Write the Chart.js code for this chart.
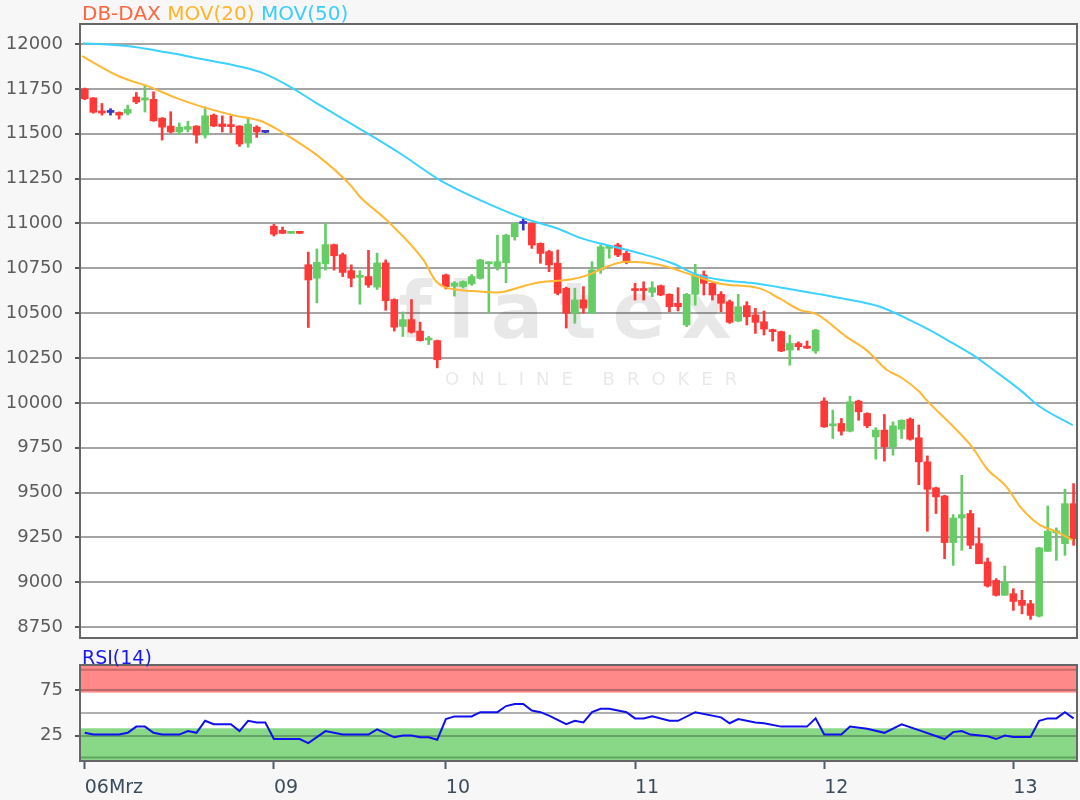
<!DOCTYPE html>
<html lang="de">
<head>
  <meta charset="UTF-8">
  <title>DB-DAX</title>
  <script src="https://cdn.jsdelivr.net/npm/chart.js"></script>
  <style>
    body {
      margin: 0;
      background: #f7f7f7;
      font-family: "DejaVu Sans", sans-serif;
    }
    #wrap { position: relative; width: 1080px; height: 800px; overflow: hidden; }
    #priceBox { position: absolute; left: 0; top: 0; width: 1080px; height: 662px; }
    #rsiBox { position: absolute; left: 0; top: 640px; width: 1080px; height: 160px; }
    .label { position: absolute; left: 82px; white-space: nowrap; line-height: 24px; }
    #title { top: 1px; font-size: 20px; }
    #rsiTitle { top: 645px; font-size: 19px; color: #1a1aee; }
  </style>
</head>
<body>
  <div id="wrap">
    <div id="rsiBox"><canvas id="rsiChart"></canvas></div>
    <div id="priceBox"><canvas id="priceChart"></canvas></div>
    <div class="label" id="title"><span style="color:#ff6640">DB-DAX</span> <span style="color:#ffb52a">MOV(20)</span> <span style="color:#3cccff">MOV(50)</span></div>
    <div class="label" id="rsiTitle">RSI(14)</div>
  </div>

  <script>
    // Tageswechsel (Index der ersten Kerze)
    const dayLabels = ['06Mrz', '09', '10', '11', '12', '13'];
    const dayStart = [0, 22, 42, 64, 86, 108];

    // Kerzen
    const open = [
      11750, 11700, 11622, 11619, 11619, 11615, 11705, 11688, 11692, 11587,
      11543, 11510, 11525, 11543, 11493, 11604, 11555, 11550, 11543, 11448,
      11537, 11508, 10985, 10962, 10945, 10948, 10770, 10695, 10775, 10882,
      10826, 10737, 10700, 10704, 10645, 10780, 10576, 10426, 10464, 10400,
      10350, 10347, 10713, 10650, 10648, 10663, 10694, 10775, 10760, 10781,
      10926, 11000, 11000, 10889, 10843, 10778, 10639, 10500, 10574, 10500,
      10741, 10861, 10880, 10834, 10632, 10632, 10616, 10653, 10605, 10555,
      10434, 10605, 10713, 10666, 10605, 10564, 10456, 10542, 10490, 10452,
      10406, 10397, 10294, 10331, 10310, 10289, 10010, 9872, 9885, 9842,
      10010, 9941, 9810, 9848, 9755, 9853, 9909, 9805, 9671, 9526,
      9481, 9221, 9358, 9383, 9215, 9113, 9010, 8927, 8936, 8899,
      8880, 8811, 9172, 9275, 9215, 9438
    ];
    const high = [
      11755, 11702, 11669, 11640, 11622, 11660, 11730, 11771, 11734, 11590,
      11623, 11560, 11570, 11545, 11650, 11610, 11600, 11600, 11545, 11590,
      11545, 11510, 10995, 10980, 10950, 10950, 10840, 10858, 11000, 10885,
      10835, 10769, 10737, 10850, 10835, 10797, 10580, 10507, 10576, 10450,
      10370, 10350, 10718, 10676, 10680, 10715, 10800, 10787, 10935, 10940,
      11005, 11028, 11002, 10892, 10850, 10852, 10645, 10639, 10648, 10787,
      10880, 10874, 10889, 10845, 10666, 10675, 10675, 10657, 10608, 10642,
      10610, 10772, 10735, 10670, 10620, 10573, 10605, 10564, 10527, 10512,
      10411, 10400, 10378, 10340, 10345, 10410, 10028, 9960, 9913, 10037,
      10015, 9945, 9861, 9935, 9894, 9905, 9916, 9876, 9704, 9530,
      9485, 9377, 9596, 9401, 9303, 9135, 9020, 9090, 8964, 8955,
      8899, 9195, 9425, 9303, 9518, 9550
    ];
    const low = [
      11690, 11615, 11604, 11604, 11582, 11605, 11668, 11621, 11570, 11465,
      11505, 11495, 11510, 11448, 11476, 11540, 11510, 11505, 11430, 11425,
      11480, 11506, 10930, 10943, 10945, 10944, 10420, 10557, 10740, 10740,
      10704, 10647, 10550, 10644, 10632, 10516, 10400, 10370, 10389, 10344,
      10325, 10195, 10635, 10595, 10640, 10655, 10690, 10500, 10740, 10670,
      10907, 10963, 10861, 10778, 10731, 10602, 10417, 10444, 10500, 10498,
      10722, 10806, 10815, 10775, 10573, 10573, 10592, 10597, 10508, 10512,
      10425, 10545, 10601, 10573, 10508, 10443, 10452, 10434, 10387, 10378,
      10344, 10285, 10210, 10294, 10303, 10276, 9863, 9801, 9820, 9838,
      9903, 9861, 9686, 9675, 9708, 9801, 9792, 9544, 9284, 9383,
      9131, 9094, 9178, 9187, 9103, 8973, 8923, 8927, 8843, 8824,
      8793, 8806, 9172, 9122, 9150, 9206
    ];
    const close = [
      11695, 11620, 11616, 11619, 11604, 11637, 11677, 11700, 11572, 11537,
      11510, 11537, 11540, 11493, 11600, 11543, 11540, 11540, 11443, 11554,
      11510, 11508, 10940, 10945, 10948, 10945, 10685, 10783, 10882, 10820,
      10727, 10695, 10705, 10657, 10780, 10570, 10422, 10464, 10394, 10347,
      10352, 10240, 10648, 10668, 10676, 10704, 10796, 10780, 10787, 10935,
      11000, 11000, 10880, 10833, 10769, 10611, 10500, 10574, 10528, 10741,
      10870, 10870, 10824, 10783, 10626, 10626, 10642, 10601, 10536, 10536,
      10605, 10713, 10666, 10601, 10555, 10449, 10536, 10480, 10449, 10411,
      10397, 10289, 10331, 10313, 10305, 10406, 9866, 9880, 9842, 10006,
      9950, 9872, 9848, 9755, 9872, 9903, 9797, 9671, 9518, 9476,
      9221, 9358, 9377, 9206, 9103, 8979, 8927, 9001, 8893, 8871,
      8815, 9191, 9284, 9284, 9438, 9243
    ];

    const ma20X = [-0.3, 4.1, 7.6, 10.3, 13.4, 17.2, 20.7, 23.1, 27.0, 30.9, 32.0, 35.1, 39.4, 40.9, 43.6, 45.2,
      47.9, 51.4, 52.9, 56.8, 59.0, 60.7, 63.0, 66.9, 70.7, 73.9, 78.5, 80.8, 83.2, 85.1, 88.6, 90.9,
      93.3, 95.0, 97.1, 97.9, 101.0, 103.3, 104.9, 107.2, 108.8, 111.1, 112.6, 114.9];
    const ma20 = [11933, 11818, 11760, 11706, 11654, 11604, 11567, 11504, 11381, 11214, 11149, 11019, 10796, 10675, 10629, 10623,
      10615, 10656, 10672, 10690, 10722, 10759, 10786, 10768, 10712, 10664, 10638, 10582, 10517, 10495, 10368, 10294,
      10183, 10140, 10060, 10015, 9868, 9748, 9634, 9532, 9420, 9318, 9290, 9235];
    const ma50X = [-0.2, 4.9, 9.5, 14.2, 18.1, 20.8, 23.9, 27.0, 31.6, 36.7, 41.3, 47.5, 51.0, 54.9, 57.8, 60.7,
      64.2, 68.4, 70.8, 73.9, 77.4, 81.6, 85.5, 90.2, 92.5, 95.6, 97.9, 101.0, 103.3, 105.7, 108.8, 111.1, 114.9];
    const ma50 = [12004, 11989, 11954, 11911, 11874, 11837, 11762, 11669, 11539, 11390, 11242, 11098, 11030, 10973, 10917, 10880,
      10838, 10777, 10722, 10686, 10669, 10638, 10605, 10563, 10536, 10470, 10415, 10331, 10266, 10183, 10071, 9978, 9876];

    // RSI(14)
    const rsiX = [0, 1, 4, 5, 6, 7, 8, 9, 11, 12, 13, 14, 15, 17, 18, 19, 20, 21, 22, 25,
      26, 28, 30, 33, 34, 36, 37, 38, 39, 40, 41, 42, 43, 45, 46, 48, 49, 50, 51, 52,
      53, 54, 56, 57, 58, 59, 60, 61, 63, 64, 65, 66, 68, 69, 71, 74, 75, 76, 78, 79,
      81, 84, 85, 86, 88, 89, 91, 93, 95, 97, 100, 101, 102, 103, 105, 106, 107, 108, 110, 111,
      112, 113, 114, 115];
    const rsiY = [28.0, 26.1, 26.1, 28.0, 34.8, 34.8, 28.0, 26.1, 26.1, 29.9, 28.0, 41.2, 37.4, 37.4, 29.9, 41.2, 39.3, 39.3, 21.2, 21.2,
      16.7, 29.9, 26.1, 26.1, 31.8, 23.1, 25.0, 25.0, 23.1, 23.1, 20.5, 43.0, 46.0, 46.0, 50.6, 50.6, 57.3, 59.6, 59.6, 52.4,
      50.6, 46.8, 37.4, 41.2, 39.3, 50.6, 54.3, 54.3, 50.6, 43.8, 43.8, 46.0, 41.2, 41.2, 50.6, 44.9, 38.5, 43.0, 39.3, 38.5,
      34.8, 34.8, 43.8, 26.1, 26.1, 34.8, 32.5, 28.0, 37.4, 31.0, 21.2, 28.8, 29.9, 26.1, 24.2, 21.2, 25.0, 23.5, 23.5, 41.2,
      43.8, 43.8, 50.6, 43.8];

    const priceTicks = [8750, 9000, 9250, 9500, 9750, 10000, 10250, 10500, 10750, 11000, 11250, 11500, 11750, 12000];
    const rsiTicks = [25, 50, 75];
    const rsiUpper = [72, 102.2];
    const rsiLower = [-2.8, 33];

    const xMin = -0.55, xMax = 115.4;
    const idx = open.map((_, i) => i);

    Chart.defaults.font.family = 'DejaVu Sans';

    function candleColor(i) {
      if (close[i] > open[i]) return '#66cc66';
      if (close[i] < open[i]) return '#ff3838';
      return '#3535cc';
    }

    const areaPlugin = {
      id: 'area',
      beforeDraw(chart) {
        const { ctx, chartArea: a } = chart;
        ctx.save();
        ctx.fillStyle = '#ffffff';
        ctx.fillRect(a.left, a.top, a.right - a.left, a.bottom - a.top);
        const band = chart.options.plugins.area.bands || [];
        const y = chart.scales.y;
        band.forEach(b => {
          const y1 = y.getPixelForValue(b.range[1]);
          const y0 = y.getPixelForValue(b.range[0]);
          ctx.fillStyle = b.color;
          ctx.fillRect(a.left, y1, a.right - a.left, y0 - y1);
          ctx.strokeStyle = b.line;
          ctx.lineWidth = 2;
          ctx.beginPath();
          const ly = y.getPixelForValue(b.edge);
          ctx.moveTo(a.left, ly);
          ctx.lineTo(a.right, ly);
          ctx.stroke();
        });
        ctx.restore();
      },
      afterDraw(chart) {
        const { ctx, chartArea: a } = chart;
        ctx.save();
        ctx.strokeStyle = '#666666';
        ctx.lineWidth = 2;
        ctx.strokeRect(a.left, a.top, a.right - a.left, a.bottom - a.top);
        ctx.restore();
      }
    };

    const watermark = {
      id: 'watermark',
      beforeDatasetsDraw(chart) {
        const ctx = chart.ctx;
        ctx.save();
        ctx.fillStyle = 'rgba(0,0,0,0.09)';
        ctx.font = 'bold 78px "DejaVu Sans"';
        ctx.letterSpacing = '16px';
        ctx.fillText('flatex', 398, 338);
        ctx.font = '18px "DejaVu Sans"';
        ctx.letterSpacing = '12px';
        ctx.fillText('ONLINE BROKER', 445, 385);
        ctx.restore();
      }
    };

    new Chart(document.getElementById('priceChart'), {
      type: 'bar',
      data: {
        datasets: [
          {
            type: 'line',
            label: 'MOV(50)',
            data: ma50X.map((x, k) => ({ x: x, y: ma50[k] })),
            borderColor: '#3cd2ff',
            borderWidth: 2,
            pointRadius: 0,
            cubicInterpolationMode: 'monotone',
            order: 0
          },
          {
            type: 'line',
            label: 'MOV(20)',
            data: ma20X.map((x, k) => ({ x: x, y: ma20[k] })),
            borderColor: '#ffb833',
            borderWidth: 2,
            pointRadius: 0,
            cubicInterpolationMode: 'monotone',
            order: 0
          },
          {
            label: 'body',
            data: idx.map(i => ({ x: i, y: [open[i], close[i]] })),
            backgroundColor: ctx => candleColor(ctx.dataIndex),
            barThickness: 7,
            minBarLength: 2,
            grouped: false,
            order: 1
          },
          {
            label: 'wick',
            data: idx.map(i => ({ x: i, y: [low[i], high[i]] })),
            backgroundColor: ctx => candleColor(ctx.dataIndex),
            barThickness: 2,
            minBarLength: 1,
            grouped: false,
            order: 2
          }
        ]
      },
      options: {
        responsive: true,
        maintainAspectRatio: false,
        animation: false,
        devicePixelRatio: 1,
        layout: { padding: { top: 24, right: 3, bottom: 24, left: 0 } },
        plugins: {
          legend: { display: false },
          tooltip: { enabled: false },
          area: { bands: [] }
        },
        scales: {
          x: { type: 'linear', min: xMin, max: xMax, offset: false, display: false },
          y: {
            min: 8689,
            max: 12112,
            afterBuildTicks: ax => { ax.ticks = priceTicks.map(v => ({ value: v })); },
            afterFit: ax => { ax.width = 80; },
            ticks: { color: '#5c5c5c', font: { size: 18 }, padding: 12, callback: v => String(v) },
            grid: { color: '#a4a4a4', lineWidth: 2, tickLength: 5, tickColor: '#555555', tickWidth: 2 },
            border: { display: false }
          }
        }
      },
      plugins: [areaPlugin, watermark]
    });

    new Chart(document.getElementById('rsiChart'), {
      type: 'line',
      data: {
        datasets: [{
          label: 'RSI(14)',
          data: rsiX.map((x, k) => ({ x: x, y: rsiY[k] })),
          borderColor: '#1010ee',
          borderWidth: 2,
          pointRadius: 0,
          tension: 0
        }]
      },
      options: {
        responsive: true,
        maintainAspectRatio: false,
        animation: false,
        devicePixelRatio: 1,
        layout: { padding: { top: 25, right: 3, bottom: 0, left: 0 } },
        plugins: {
          legend: { display: false },
          tooltip: { enabled: false },
          area: {
            bands: [
              { range: rsiUpper, color: '#ff8888', line: '#c86a6a', edge: 97 },
              { range: rsiLower, color: '#88d888', line: '#5fa45f', edge: 1 }
            ]
          }
        },
        scales: {
          x: {
            type: 'linear',
            min: xMin,
            max: xMax,
            offset: false,
            afterBuildTicks: ax => { ax.ticks = dayStart.map(v => ({ value: v })); },
            afterFit: ax => { ax.height = 39; },
            ticks: {
              color: '#3c4c5c',
              font: { size: 19 },
              align: 'start',
              padding: 8,
              maxRotation: 0,
              autoSkip: false,
              callback: (v, i) => dayLabels[i]
            },
            grid: { drawOnChartArea: false, tickLength: 8, tickColor: '#4d5d6d', tickWidth: 2 },
            border: { display: false }
          },
          y: {
            min: -2.8,
            max: 102.2,
            afterBuildTicks: ax => { ax.ticks = rsiTicks.map(v => ({ value: v })); },
            afterFit: ax => { ax.width = 80; },
            ticks: {
              color: '#5c5c5c',
              font: { size: 18 },
              padding: 12,
              callback: v => (v === 50 ? '' : String(v))
            },
            grid: {
              color: ctx => (ctx.tick && ctx.tick.value === 50 ? '#b0b0b0' : 'rgba(0,0,0,0.25)'),
              lineWidth: 2,
              tickLength: 5,
              tickColor: ctx => (ctx.tick && ctx.tick.value === 50 ? 'rgba(0,0,0,0)' : '#555555'),
              tickWidth: 2
            },
            border: { display: false }
          }
        }
      },
      plugins: [areaPlugin]
    });
  </script>
</body>
</html>
